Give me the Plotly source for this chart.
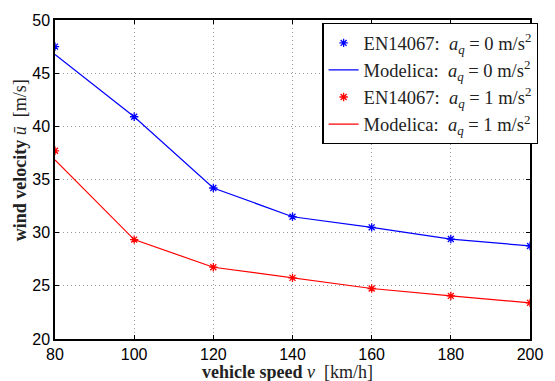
import plotly.graph_objects as go

speed = [80, 100, 120, 140, 160, 180, 200]
en_a0 = [47.5, 40.9, 34.2, 31.5, 30.5, 29.4, 28.75]
mod_a0 = [46.75, 40.9, 34.2, 31.5, 30.5, 29.4, 28.75]
en_a1 = [37.7, 29.35, 26.75, 25.75, 24.75, 24.05, 23.4]
mod_a1 = [36.85, 29.35, 26.75, 25.75, 24.75, 24.05, 23.4]

xticks = [80, 100, 120, 140, 160, 180, 200]
yticks = [20, 25, 30, 35, 40, 45, 50]

serif = "Liberation Serif, Times New Roman, serif"
sans = "Liberation Sans, Arial, sans-serif"

lab0 = "EN14067:  <i>a<sub>q</sub></i> = 0 m/s<sup>2</sup>"
lab0m = "Modelica:  <i>a<sub>q</sub></i> = 0 m/s<sup>2</sup>"
lab1 = "EN14067:  <i>a<sub>q</sub></i> = 1 m/s<sup>2</sup>"
lab1m = "Modelica:  <i>a<sub>q</sub></i> = 1 m/s<sup>2</sup>"

fig = go.Figure()
fig.add_trace(go.Scatter(x=speed, y=en_a0, mode="markers", name=lab0,
                         marker=dict(color="#0000ff", symbol="asterisk-open", size=7,
                                     line=dict(width=1.3, color="#0000ff"))))
fig.add_trace(go.Scatter(x=speed, y=mod_a0, mode="lines", name=lab0m,
                         line=dict(color="#0000ff", width=1.2)))
fig.add_trace(go.Scatter(x=speed, y=en_a1, mode="markers", name=lab1,
                         marker=dict(color="#ff0000", symbol="asterisk-open", size=7,
                                     line=dict(width=1.3, color="#ff0000"))))
fig.add_trace(go.Scatter(x=speed, y=mod_a1, mode="lines", name=lab1m,
                         line=dict(color="#ff0000", width=1.2)))

axis_common = dict(
    showline=True, linecolor="black", linewidth=1.5, mirror="ticks",
    ticks="inside", ticklen=4, tickcolor="black", tickwidth=1,
    showgrid=True, gridcolor="#999999", griddash="1px,3px", gridwidth=1,
    zeroline=False, tickfont=dict(family=sans, size=16, color="black"),
)

fig.update_layout(
    width=555, height=381,
    margin=dict(l=55, r=14, t=19, b=42),
    paper_bgcolor="white", plot_bgcolor="white",
    showlegend=True,
    legend=dict(x=0.563, y=0.99, xanchor="left", yanchor="top",
                bgcolor="white", bordercolor="black", borderwidth=1.2,
                font=dict(family=serif, size=18.5, color="#222222"),
                tracegroupgap=0, itemwidth=30),
    xaxis=dict(range=[80, 200], tickvals=xticks, **axis_common),
    yaxis=dict(range=[20, 50], tickvals=yticks, **axis_common),
    annotations=[
        dict(text="<b>vehicle speed</b> <i>v</i>  [km/h]", xref="paper", yref="paper",
             x=0.49, y=0, yshift=-33, xanchor="center", yanchor="middle", showarrow=False,
             font=dict(family=serif, size=18, color="#222222")),
        dict(text="<b>wind velocity</b> <i>ū</i>  [m/s]", xref="paper", yref="paper",
             x=0, xshift=-35, y=0.56, xanchor="center", yanchor="middle", showarrow=False,
             textangle=-90, font=dict(family=serif, size=18, color="#222222")),
    ],
)

fig.write_html("out.html")
